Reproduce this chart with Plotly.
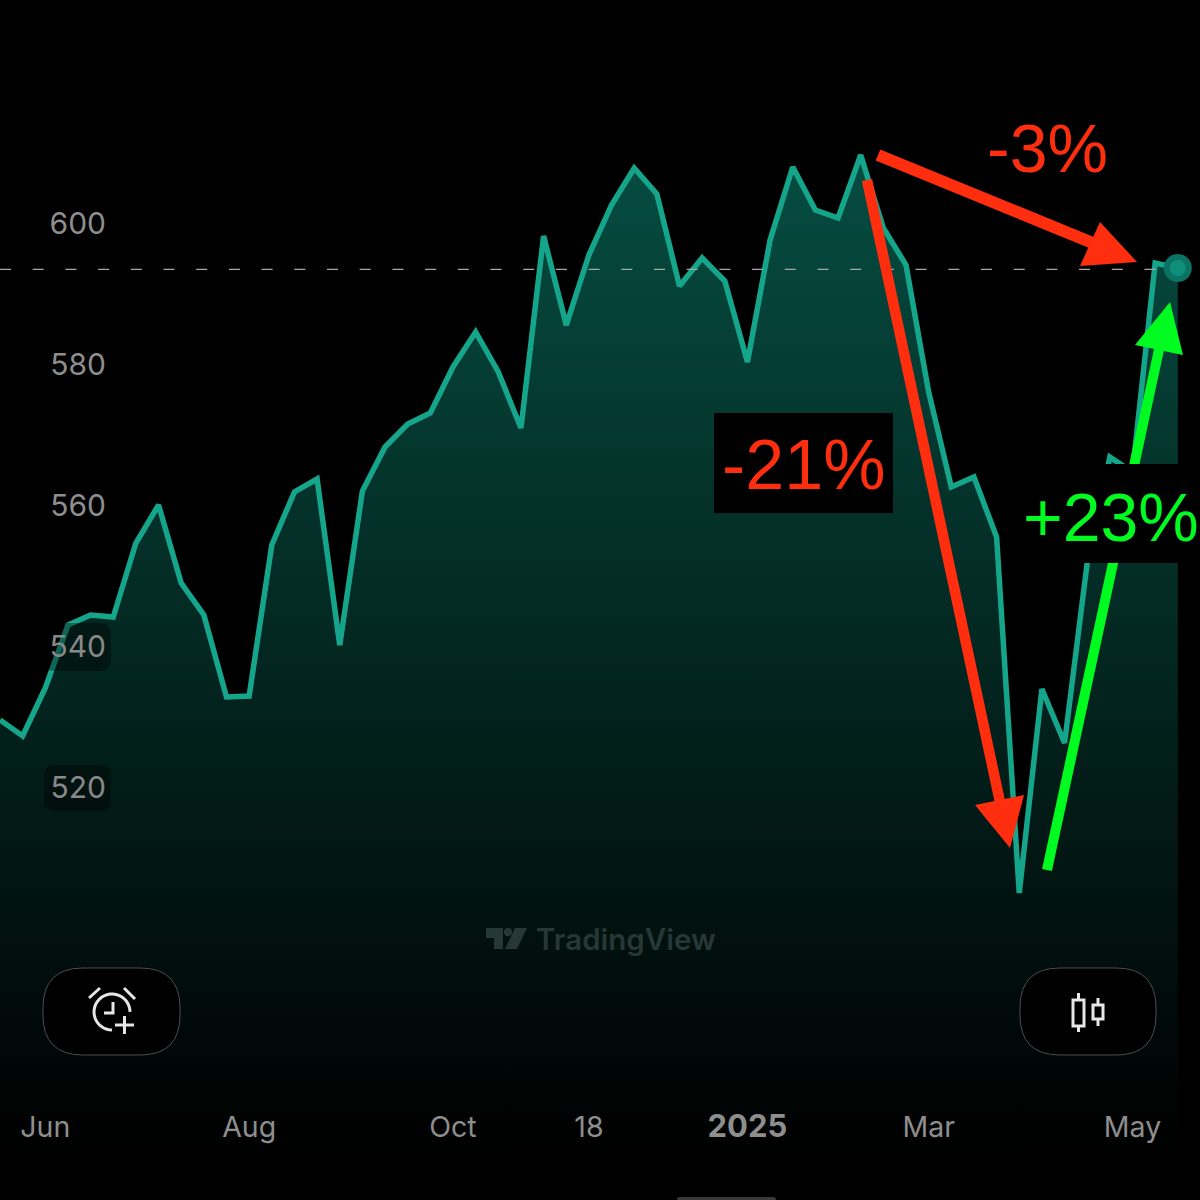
import math
import plotly.graph_objects as go

# ---------- data ----------
week_index = list(range(53))
close_values = [
    529.65, 527.38, 534.18, 543.12, 544.54, 544.26, 554.75, 560.14, 549.08, 544.54,
    532.91, 533.05, 554.47, 561.99, 563.83, 540.28, 562.13, 568.37, 571.63, 573.19,
    579.72, 584.68, 579.01, 571.06, 598.30, 585.67, 595.60, 602.70, 607.94, 604.26,
    591.21, 595.18, 591.91, 580.43, 597.73, 608.09, 601.99, 600.85, 609.79, 599.43,
    594.18, 576.17, 562.70, 564.11, 555.60, 505.11, 534.04, 526.38, 551.91, 566.95,
    564.82, 594.47, 593.76,
]
last_price = 593.55
y_ticks = [520, 540, 560, 580, 600]
x_tick_index = [2, 11, 20, 26, 33, 41, 50]
x_tick_labels = ["Jun", "Aug", "Oct", "18", '<span style="font-size:31px"><b>2025</b></span>', "Mar", "May"]

# ---------- style ----------
LINE = "#15a58b"
GRAY = "#8e8e8e"
RED = "#ff2e0e"
GREEN = "#00fb20"
SIZE = 1200
X_PER_PX = 1 / 22.65
Y_PER_PX = 1 / 7.05


def px(x):
    return x / SIZE


def py(y):
    return 1 - y / SIZE


def path(points, close=False):
    s = "M" + " L".join(f"{px(x):.5f},{py(y):.5f}" for x, y in points)
    return s + (" Z" if close else "")


def rounded(x0, y0, x1, y1, r):
    def p(x, y):
        return f"{px(x):.5f},{py(y):.5f}"
    return (
        f"M{p(x0 + r, y0)} L{p(x1 - r, y0)} Q{p(x1, y0)} {p(x1, y0 + r)} "
        f"L{p(x1, y1 - r)} Q{p(x1, y1)} {p(x1 - r, y1)} L{p(x0 + r, y1)} "
        f"Q{p(x0, y1)} {p(x0, y1 - r)} L{p(x0, y0 + r)} Q{p(x0, y0)} {p(x0 + r, y0)} Z"
    )


def arc(cx, cy, r, a0, a1, n=28):
    return [
        (cx + r * math.cos(math.radians(a0 + (a1 - a0) * i / n)),
         cy + r * math.sin(math.radians(a0 + (a1 - a0) * i / n)))
        for i in range(n + 1)
    ]


def shape_path(d, line=None, width=0, fill=None, layer="above"):
    out = dict(type="path", path=d, xref="paper", yref="paper", layer=layer,
               line=dict(color=line or "rgba(0,0,0,0)", width=width))
    if fill:
        out["fillcolor"] = fill
    return out


def rect(x0, y0, x1, y1, fill):
    return dict(type="rect", xref="paper", yref="paper", layer="above",
                x0=px(x0), x1=px(x1), y0=py(y1), y1=py(y0),
                fillcolor=fill, line=dict(width=0))


def arrow(tail, neck, head, color, width):
    return [
        shape_path(path([tail, neck]), line=color, width=width),
        shape_path(path(head, True), fill=color),
    ]


ICON = "#e6e6e6"
WATERMARK = "#263836"
shapes = [
    # translucent chips behind two price labels
    shape_path(rounded(44, 623, 111, 671, 11), fill="rgba(0,0,0,0.38)"),
    shape_path(rounded(44, 765, 111, 811, 11), fill="rgba(0,0,0,0.38)"),
    # arrows: the green one passes under the +23% plate
    *arrow((1047, 870), (1160, 345), [(1135, 345), (1170, 302), (1183, 355)], GREEN, 10),
    *arrow((878, 155), (1100, 246), [(1100, 222), (1137, 262), (1080, 266)], RED, 12),
    *arrow((867, 180), (1000, 802), [(975, 805), (1010, 848), (1024, 795)], RED, 10.5),
    # label plates
    rect(714, 413, 893, 513, "#000000"),
    rect(1020, 464, 1200, 563, "#000000"),
    # buttons
    shape_path(rounded(43, 968, 180, 1055, 40), line="#4a4f4e", width=1, fill="#000000"),
    shape_path(rounded(1020, 968, 1156, 1055, 40), line="#4a4f4e", width=1, fill="#000000"),
    # alarm icon
    shape_path(path(arc(112, 1012, 18, 0, -270)), line=ICON, width=3),
    shape_path(path([(113, 1002), (113, 1013), (104, 1013)]), line=ICON, width=3),
    shape_path(path([(89, 998), (100, 988)]), line=ICON, width=3),
    shape_path(path([(124, 988), (135, 999)]), line=ICON, width=3),
    shape_path(path([(115, 1025), (134, 1025)]), line=ICON, width=3),
    shape_path(path([(124.5, 1016), (124.5, 1034)]), line=ICON, width=3),
    # candle icon
    shape_path(path([(1073, 1000), (1084, 1000), (1084, 1026), (1073, 1026)], True), line=ICON, width=3),
    shape_path(path([(1078.5, 993), (1078.5, 1000)]), line=ICON, width=3),
    shape_path(path([(1078.5, 1026), (1078.5, 1032)]), line=ICON, width=3),
    shape_path(path([(1093, 1005), (1103, 1005), (1103, 1019), (1093, 1019)], True), line=ICON, width=3),
    shape_path(path([(1098, 998), (1098, 1005)]), line=ICON, width=3),
    shape_path(path([(1098, 1019), (1098, 1026)]), line=ICON, width=3),
    # TradingView logo
    shape_path(path([(486, 928), (503, 928), (503, 949), (494, 949), (494, 938), (486, 938)], True), fill=WATERMARK),
    shape_path(path(arc(508, 932, 4.2, 0, 360, 16), True), fill=WATERMARK),
    shape_path(path([(515, 928), (527, 928), (517, 949), (505, 949)], True), fill=WATERMARK),
    # home indicator
    shape_path(rounded(677, 1197, 776, 1204, 3), fill="#3a3a3a"),
]


def big_text(text, x, y, color, size):
    return dict(x=px(x), y=py(y), xref="paper", yref="paper", text=text,
                showarrow=False, xanchor="center", yanchor="middle",
                font=dict(family="Liberation Sans", size=size, color=color))


annotations = [
    big_text("-3%", 1047, 148, RED, 68),
    big_text("-21%", 803, 465, RED, 70),
    big_text("+23%", 1111, 517, GREEN, 68),
    dict(x=px(534), y=py(939), xref="paper", yref="paper", text="TradingView",
         showarrow=False, xanchor="left", yanchor="middle",
         font=dict(family="Inter", size=29.5, color=WATERMARK, weight=600)),
]

# ---------- figure ----------
fig = go.Figure()
fig.add_trace(go.Scatter(
    x=week_index, y=close_values, mode="none", fill="tozeroy", showlegend=False,
    hoverinfo="skip",
    fillgradient=dict(type="vertical", start=468, stop=612,
                      colorscale=[[0, "#000000"], [1, "#064e42"]]),
))
fig.add_trace(go.Scatter(
    x=week_index, y=close_values, mode="lines", showlegend=False,
    line=dict(color=LINE, width=5.5),
))
fig.add_trace(go.Scatter(
    x=[0, 51.2], y=[last_price, last_price], mode="lines", showlegend=False,
    line=dict(color="#a8a8a8", width=1.2, dash="11px,21.7px"),
))
fig.add_trace(go.Scatter(
    x=week_index[-1:], y=close_values[-1:], mode="markers", showlegend=False, cliponaxis=False,
    marker=dict(size=22, color="#0f8f7a", line=dict(color="#0b7363", width=6)),
))

y_labels = [
    f'<span style="color:#dcdcdc">{v}</span>' if v in (520, 540) else str(v)
    for v in y_ticks
]

fig.update_layout(
    width=SIZE, height=SIZE, margin=dict(l=0, r=0, t=0, b=0),
    paper_bgcolor="#000000", plot_bgcolor="#000000",
    showlegend=False, shapes=shapes, annotations=annotations,
    font=dict(family="Inter", color=GRAY),
    xaxis=dict(
        range=[0, SIZE * X_PER_PX], showgrid=False, zeroline=False, showline=False,
        tickmode="array", tickvals=x_tick_index, ticktext=x_tick_labels,
        ticks="", ticklabelposition="inside", ticklabelstandoff=54,
        tickfont=dict(family="Inter", size=28.5, color=GRAY),
    ),
    yaxis=dict(
        range=[600 - (SIZE - 224) * Y_PER_PX, 600 + 224 * Y_PER_PX],
        showgrid=False, zeroline=False, showline=False,
        tickmode="array", tickvals=y_ticks, ticktext=y_labels,
        ticks="", ticklabelposition="outside", ticklabelstandoff=-107,
        ticklabelshift=-1,
        tickfont=dict(family="Inter", size=30, color=GRAY),
    ),
)

fig.write_html("out.html", config=dict(displayModeBar=False),
               post_script="document.body.style.margin='0';document.body.style.background='#000';")
